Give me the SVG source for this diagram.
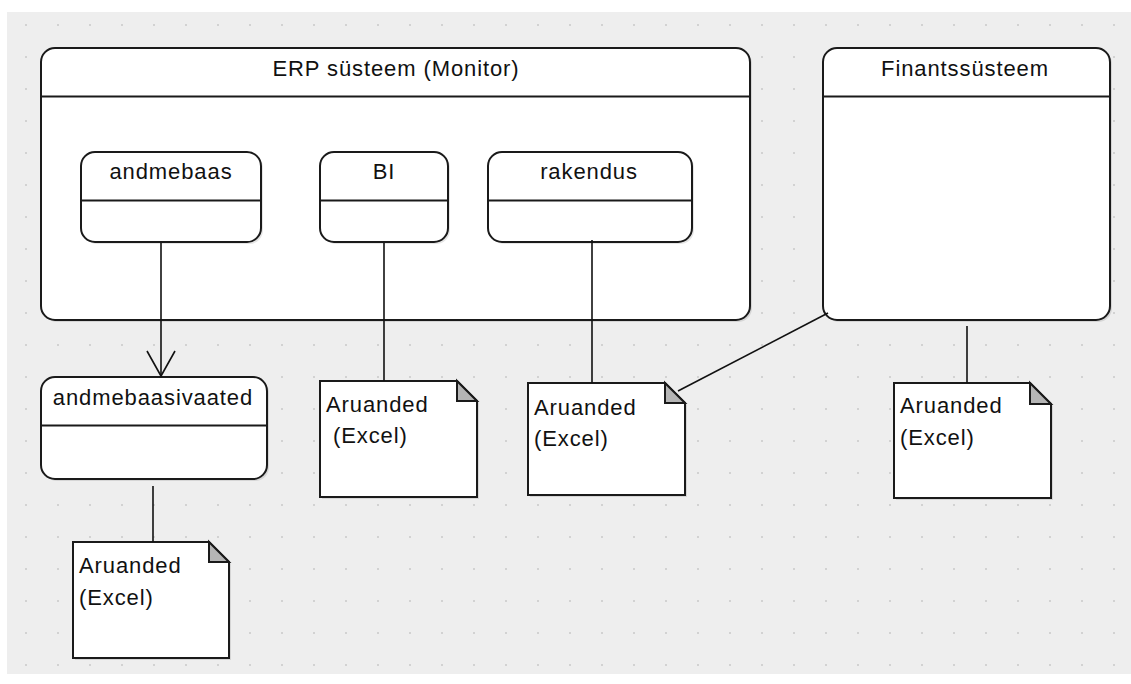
<svg xmlns="http://www.w3.org/2000/svg" width="1131" height="684" viewBox="0 0 1131 684">
  <defs>
    <pattern id="grid" patternUnits="userSpaceOnUse" x="0" y="0" width="32" height="32">
      <rect x="25" y="24" width="2" height="2" fill="#d2d2d2"/>
    </pattern>
    <!-- open "V" arrowhead, drawn pointing along +x so orient="auto" follows the line -->
    <marker id="open-arrow" viewBox="0 0 30 30" refX="28" refY="15" markerWidth="30" markerHeight="30" markerUnits="userSpaceOnUse" orient="auto">
      <path d="M3,1 L28,15 L3,29" fill="none" stroke="#111" stroke-width="1.6"/>
    </marker>
  </defs>
  <style>
    .box { fill: #ffffff; stroke: #1a1a1a; stroke-width: 2; }
    .shadow { fill: #000000; opacity: 0.10; }
    .sep { stroke: #1a1a1a; stroke-width: 2; }
    .fold { fill: #b5b5b5; stroke: #1a1a1a; stroke-width: 2; stroke-linejoin: miter; }
    .label { font-family: "Liberation Sans", Arial, sans-serif; font-size: 22px; letter-spacing: 0.9px; fill: #111111; }
    .mid { text-anchor: middle; }
    .conn { stroke: #111111; stroke-width: 1.6; fill: none; }
  </style>

  <!-- canvas -->
  <rect x="0" y="0" width="1131" height="684" fill="#ffffff"/>
  <rect x="7" y="12" width="1124" height="662" fill="#eeeeee"/>
  <rect x="7" y="12" width="1124" height="662" fill="url(#grid)"/>

  <!-- ERP container -->
  <g id="erp">
    <rect class="shadow" x="43" y="50" width="709" height="272" rx="14"/>
    <rect class="box" x="41" y="48" width="709" height="272" rx="14"/>
    <line class="sep" x1="41" y1="96.5" x2="750" y2="96.5"/>
    <text class="label mid" x="396" y="76">ERP süsteem (Monitor)</text>
  </g>

  <!-- Finance system container -->
  <g id="finants">
    <rect class="shadow" x="825" y="50" width="287" height="272" rx="14"/>
    <rect class="box" x="823" y="48" width="287" height="272" rx="14"/>
    <line class="sep" x1="823" y1="96.5" x2="1110" y2="96.5"/>
    <text class="label mid" x="965" y="76">Finantssüsteem</text>
  </g>

  <!-- inner states -->
  <g id="andmebaas">
    <rect class="shadow" x="83" y="154" width="180" height="90" rx="14"/>
    <rect class="box" x="81" y="152" width="180" height="90" rx="14"/>
    <line class="sep" x1="81" y1="200.5" x2="261" y2="200.5"/>
    <text class="label mid" x="171" y="179">andmebaas</text>
  </g>

  <g id="bi">
    <rect class="shadow" x="322" y="154" width="128" height="90" rx="14"/>
    <rect class="box" x="320" y="152" width="128" height="90" rx="14"/>
    <line class="sep" x1="320" y1="200.5" x2="448" y2="200.5"/>
    <text class="label mid" x="384" y="179">BI</text>
  </g>

  <g id="rakendus">
    <rect class="shadow" x="490" y="154" width="204" height="90" rx="14"/>
    <rect class="box" x="488" y="152" width="204" height="90" rx="14"/>
    <line class="sep" x1="488" y1="200.5" x2="692" y2="200.5"/>
    <text class="label mid" x="589" y="179">rakendus</text>
  </g>

  <g id="andmebaasivaated">
    <rect class="shadow" x="43" y="379" width="226" height="102" rx="14"/>
    <rect class="box" x="41" y="377" width="226" height="102" rx="14"/>
    <line class="sep" x1="41" y1="425.5" x2="267" y2="425.5"/>
    <text class="label mid" x="153" y="405">andmebaasivaated</text>
  </g>

  <!-- report notes -->
  <g id="note-bi">
    <path class="shadow" d="M322,383 H459 L479,403 V499 H322 Z"/>
    <path class="box" d="M320,381 H457 L477,401 V497 H320 Z"/>
    <path class="fold" d="M457,381 V401 H477 Z"/>
    <text class="label" x="326" y="412">Aruanded</text>
    <text class="label" x="326" y="443" xml:space="preserve"> (Excel)</text>
  </g>

  <g id="note-rakendus">
    <path class="shadow" d="M530,385 H667 L687,405 V497 H530 Z"/>
    <path class="box" d="M528,383 H665 L685,403 V495 H528 Z"/>
    <path class="fold" d="M665,383 V403 H685 Z"/>
    <text class="label" x="534" y="415">Aruanded</text>
    <text class="label" x="534" y="446">(Excel)</text>
  </g>

  <g id="note-finants">
    <path class="shadow" d="M896,385 H1032 L1053,406 V500 H896 Z"/>
    <path class="box" d="M894,383 H1030 L1051,404 V498 H894 Z"/>
    <path class="fold" d="M1030,383 V404 H1051 Z"/>
    <text class="label" x="900" y="413">Aruanded</text>
    <text class="label" x="900" y="445">(Excel)</text>
  </g>

  <g id="note-vaated">
    <path class="shadow" d="M75,544 H211 L231,564 V660 H75 Z"/>
    <path class="box" d="M73,542 H209 L229,562 V658 H73 Z"/>
    <path class="fold" d="M209,542 V562 H229 Z"/>
    <text class="label" x="79" y="573">Aruanded</text>
    <text class="label" x="79" y="605">(Excel)</text>
  </g>

  <!-- connectors -->
  <g id="connectors">
    <line class="conn" x1="161" y1="243" x2="161" y2="376" marker-end="url(#open-arrow)"/>
    <line class="conn" x1="384" y1="243" x2="384" y2="381"/>
    <line class="conn" x1="592" y1="240" x2="592" y2="383"/>
    <line class="conn" x1="828" y1="313" x2="678" y2="391"/>
    <line class="conn" x1="967" y1="326" x2="967" y2="383"/>
    <line class="conn" x1="153" y1="486" x2="153" y2="542"/>
  </g>
</svg>
